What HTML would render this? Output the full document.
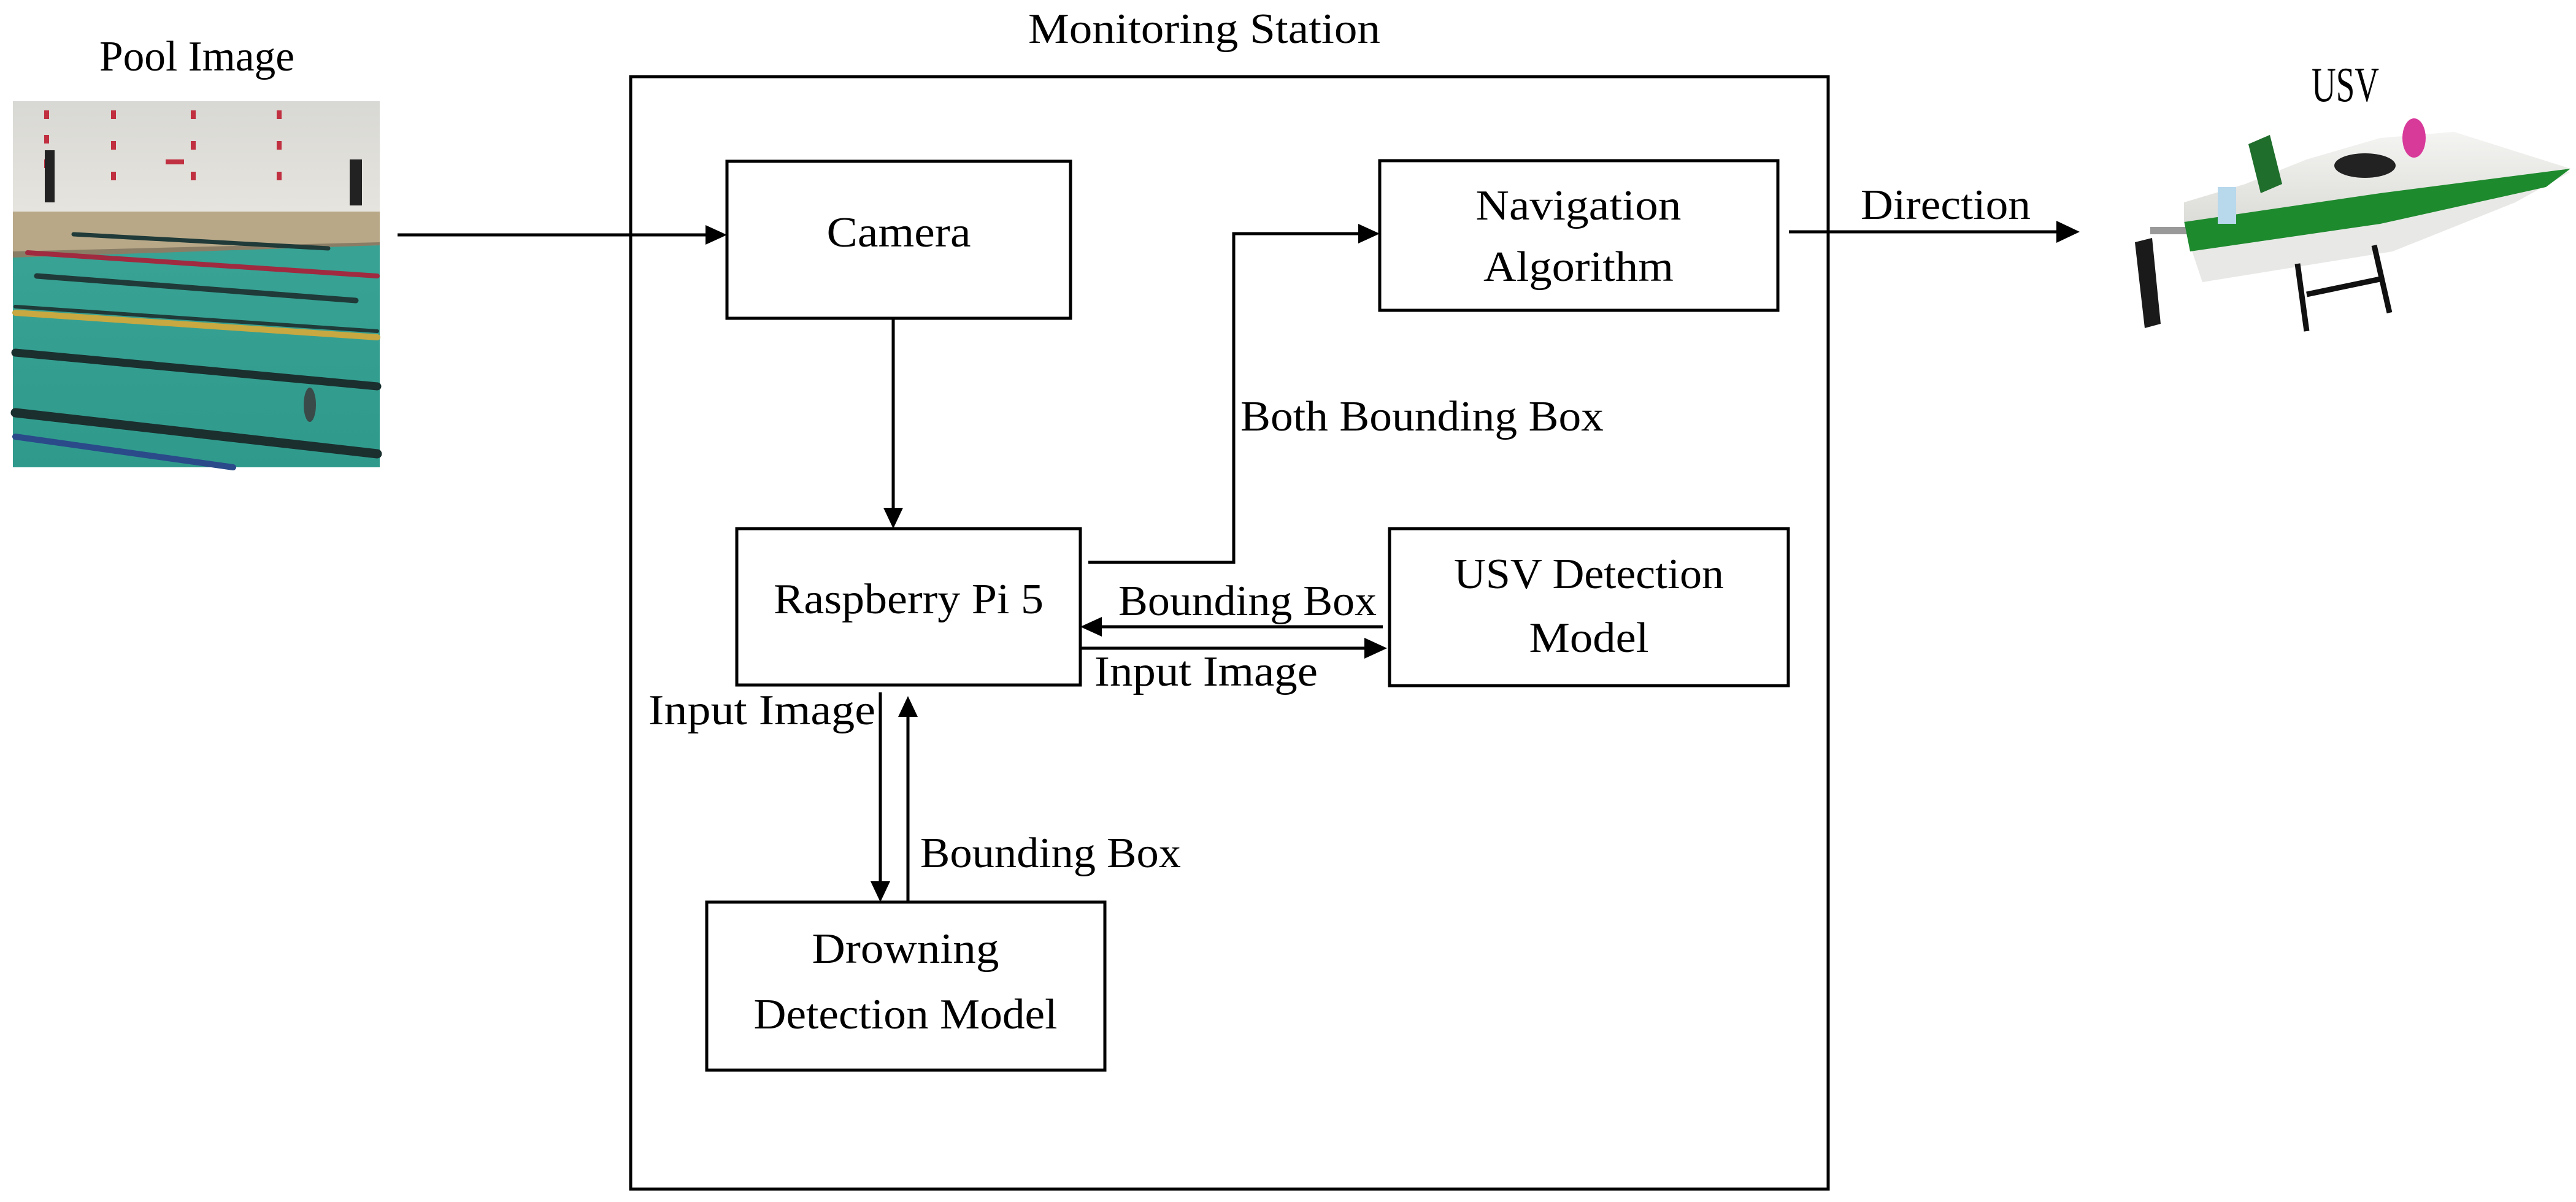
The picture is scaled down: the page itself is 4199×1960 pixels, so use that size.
<!DOCTYPE html>
<html><head><meta charset="utf-8"><style>
html,body{margin:0;padding:0;background:#fff;}
svg{display:block;}
text{font-family:"Liberation Serif",serif;font-size:70px;fill:#000;}
</style></head><body>
<svg width="4199" height="1960" viewBox="0 0 4199 1960" xmlns="http://www.w3.org/2000/svg">
<defs>
<linearGradient id="wall" x1="0" y1="0" x2="0" y2="1"><stop offset="0" stop-color="#d8d8d4"/><stop offset="1" stop-color="#e6e4de"/></linearGradient>
<linearGradient id="water" x1="0" y1="0" x2="0" y2="1"><stop offset="0" stop-color="#3fa89a"/><stop offset="1" stop-color="#2f9a8c"/></linearGradient>
<linearGradient id="hull" x1="0" y1="0" x2="0" y2="1"><stop offset="0" stop-color="#f4f4f2"/><stop offset="1" stop-color="#dcdcd8"/></linearGradient>
</defs>

<!-- Pool image -->
<g>
<rect x="21" y="165" width="598" height="597" fill="url(#water)"/>
<rect x="21" y="165" width="598" height="180" fill="url(#wall)"/>
<polygon points="21,345 619,345 619,400 21,410" fill="#b8a888"/>
<polygon points="21,410 619,395 619,400 21,420" fill="#8a7d66"/>
<g fill="#c03040"><rect x="72" y="180" width="8" height="14"/><rect x="72" y="220" width="8" height="14"/><rect x="72" y="260" width="8" height="14"/><rect x="181" y="180" width="8" height="14"/><rect x="181" y="230" width="8" height="14"/><rect x="181" y="280" width="8" height="14"/><rect x="311" y="180" width="8" height="14"/><rect x="311" y="230" width="8" height="14"/><rect x="311" y="280" width="8" height="14"/><rect x="451" y="180" width="8" height="14"/><rect x="451" y="230" width="8" height="14"/><rect x="451" y="280" width="8" height="14"/><rect x="270" y="260" width="30" height="8"/></g>
<rect x="73" y="245" width="16" height="85" fill="#222"/><rect x="570" y="260" width="20" height="75" fill="#222"/>
<g stroke-linecap="round" fill="none">
<line x1="120" y1="382" x2="535" y2="405" stroke="#1f3a38" stroke-width="7"/>
<line x1="45" y1="412" x2="615" y2="450" stroke="#a02a40" stroke-width="8"/>
<line x1="60" y1="450" x2="580" y2="490" stroke="#1f3a38" stroke-width="9"/>
<line x1="25" y1="510" x2="615" y2="550" stroke="#c8a840" stroke-width="10"/>
<line x1="25" y1="500" x2="615" y2="540" stroke="#1f3a38" stroke-width="6"/>
<line x1="25" y1="575" x2="615" y2="630" stroke="#1a2f2e" stroke-width="13"/>
<line x1="25" y1="673" x2="615" y2="740" stroke="#1a2f2e" stroke-width="15"/>
<line x1="25" y1="712" x2="380" y2="762" stroke="#2a4a8a" stroke-width="10"/>
</g>
<ellipse cx="505" cy="660" rx="10" ry="28" fill="#3a4a48"/>
</g>

<!-- Boat -->
<g>
<polygon points="3480,395 3508,388 3522,528 3496,535" fill="#1a1a1a"/>
<rect x="3505" y="370" width="75" height="12" fill="#999"/>
<!-- hull lower white -->
<polygon points="3570,400 3880,345 4190,280 4100,330 3900,410 3590,460" fill="#e8e8e6"/>
<!-- green band -->
<polygon points="3560,360 3880,310 4190,275 4150,305 3880,365 3570,410" fill="#1e8a2e"/>
<!-- deck -->
<polygon points="3560,330 3660,300 3760,260 3880,225 4000,215 4190,275 3880,315 3560,362" fill="url(#hull)"/>
<polygon points="3665,235 3700,220 3720,300 3685,315" fill="#1f6e2c"/>
<rect x="3615" y="305" width="30" height="60" fill="#b8d8ec"/>
<ellipse cx="3855" cy="270" rx="50" ry="20" fill="#222"/>
<ellipse cx="3935" cy="225" rx="19" ry="32" fill="#d83a9a"/>
<g stroke="#111" stroke-width="9" fill="none"><line x1="3745" y1="430" x2="3760" y2="540"/><line x1="3870" y1="400" x2="3895" y2="510"/><line x1="3760" y1="480" x2="3880" y2="455"/></g>
</g>

<!-- Titles -->
<text x="321" y="115" text-anchor="middle" textLength="318" lengthAdjust="spacingAndGlyphs">Pool Image</text>
<text x="1963" y="70" text-anchor="middle" textLength="574" lengthAdjust="spacingAndGlyphs">Monitoring Station</text>
<text x="3823" y="165" text-anchor="middle" textLength="110" lengthAdjust="spacingAndGlyphs" style="font-size:80px">USV</text>

<g fill="none" stroke="#000" stroke-width="5">
<rect x="1028" y="125" width="1952" height="1814"/>
<rect x="1185" y="263" width="560" height="256"/>
<rect x="2249" y="262" width="649" height="244"/>
<rect x="1201" y="862" width="560" height="255"/>
<rect x="2265" y="862" width="650" height="256"/>
<rect x="1152" y="1471" width="649" height="274"/>
<line x1="648" y1="383" x2="1155" y2="383"/>
<line x1="1456" y1="519" x2="1456" y2="832"/>
<polyline points="1774,917 2011,917 2011,381 2220,381"/>
<line x1="2916" y1="378" x2="3355" y2="378"/>
<line x1="2254" y1="1022" x2="1791" y2="1022"/>
<line x1="1761" y1="1057" x2="2224" y2="1057"/>
<line x1="1435" y1="1129" x2="1435" y2="1441"/>
<line x1="1480" y1="1471" x2="1480" y2="1167"/>
</g>
<g fill="#000">
<polygon points="1185,383 1150,367 1150,399"/>
<polygon points="1456,862 1440,828 1472,828"/>
<polygon points="2249,381 2214,365 2214,397"/>
<polygon points="3390,378 3352,360 3352,396"/>
<polygon points="1761,1022 1796,1006 1796,1038"/>
<polygon points="2261,1057 2224,1040 2224,1074"/>
<polygon points="1435,1471 1419,1437 1451,1437"/>
<polygon points="1480,1135 1464,1169 1496,1169"/>
</g>

<text x="1465" y="402" text-anchor="middle" textLength="235" lengthAdjust="spacingAndGlyphs">Camera</text>
<text x="2573" y="358" text-anchor="middle" textLength="335" lengthAdjust="spacingAndGlyphs">Navigation</text>
<text x="2573" y="458" text-anchor="middle" textLength="310" lengthAdjust="spacingAndGlyphs">Algorithm</text>
<text x="1481" y="1000" text-anchor="middle" textLength="440" lengthAdjust="spacingAndGlyphs">Raspberry Pi 5</text>
<text x="2590" y="959" text-anchor="middle" textLength="440" lengthAdjust="spacingAndGlyphs">USV Detection</text>
<text x="2590" y="1063" text-anchor="middle" textLength="195" lengthAdjust="spacingAndGlyphs">Model</text>
<text x="1476" y="1570" text-anchor="middle" textLength="305" lengthAdjust="spacingAndGlyphs">Drowning</text>
<text x="1476" y="1677" text-anchor="middle" textLength="495" lengthAdjust="spacingAndGlyphs">Detection Model</text>
<text x="2022" y="702" textLength="592" lengthAdjust="spacingAndGlyphs">Both Bounding Box</text>
<text x="1823" y="1003" textLength="421" lengthAdjust="spacingAndGlyphs">Bounding Box</text>
<text x="1784" y="1118" textLength="364" lengthAdjust="spacingAndGlyphs">Input Image</text>
<text x="1057" y="1181" textLength="370" lengthAdjust="spacingAndGlyphs">Input Image</text>
<text x="1500" y="1414" textLength="425" lengthAdjust="spacingAndGlyphs">Bounding Box</text>
<text x="3033" y="357" textLength="277" lengthAdjust="spacingAndGlyphs">Direction</text>
</svg>
</body></html>
